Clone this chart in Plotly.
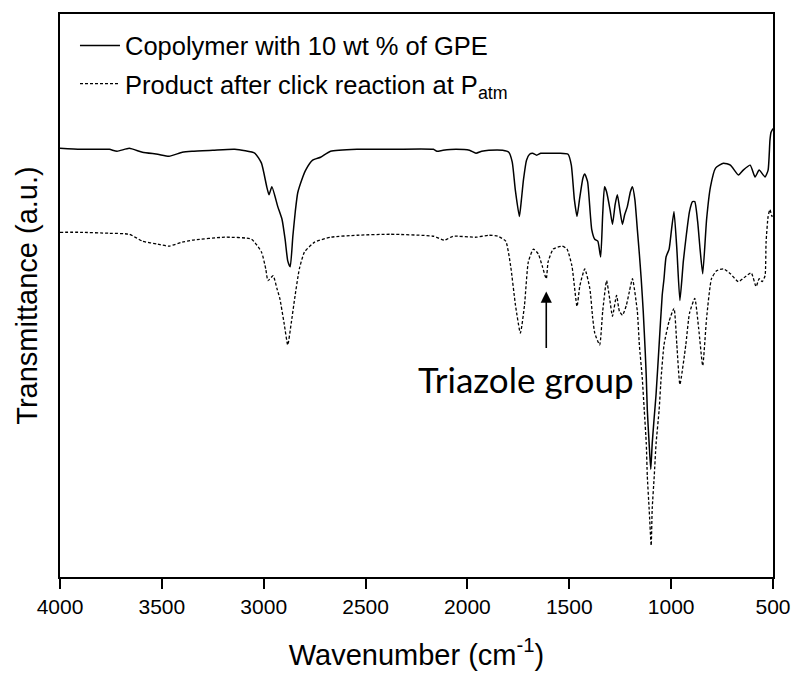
import plotly.graph_objects as go

# Wavenumber (cm^-1) and transmittance (a.u.)
copolymer_wn = [4000, 3900, 3800, 3757, 3720, 3660, 3595, 3520, 3465, 3400, 3352, 3250, 3142, 3043,
                3011, 2985, 2974, 2960, 2931, 2910, 2895, 2882, 2870, 2857, 2845, 2833, 2810, 2794,
                2760, 2721, 2672, 2542, 2400, 2167, 2150, 2120, 2056, 1990, 1958, 1930, 1895, 1827,
                1797, 1780, 1765, 1745, 1735, 1725, 1710, 1695, 1680, 1660, 1640, 1600, 1550, 1506,
                1490, 1475, 1462, 1450, 1433, 1424, 1410, 1390, 1375, 1360, 1346, 1336, 1327, 1317,
                1300, 1288, 1275, 1264, 1252, 1239, 1228, 1215, 1200, 1190, 1178, 1166, 1156, 1147,
                1137, 1127, 1122, 1117, 1108, 1100, 1093, 1083, 1074, 1059, 1044, 1035, 1025, 1010,
                998, 986, 972, 957, 940, 925, 910, 895, 884, 870, 858, 845, 826, 807, 782, 743, 709,
                670, 646, 612, 588, 568, 539, 524, 515, 510, 500]
copolymer_t = [434, 433, 433, 433, 431, 434, 430, 428, 426, 430, 431, 432, 433, 429,
               419, 395, 387, 395, 375, 362, 342, 320, 314, 345, 370, 389, 404, 412,
               422, 425, 431, 433, 433, 433, 431, 432, 433, 432, 429, 431, 432, 432,
               430, 420, 392, 365, 382, 402, 422, 428, 429, 427, 429, 429, 429, 428,
               417, 382, 365, 382, 404, 408, 400, 352, 342, 340, 324, 367, 395, 390,
               372, 357, 377, 387, 372, 357, 367, 375, 390, 395, 382, 352, 327, 302,
               269, 227, 202, 169, 135, 109, 135, 162, 185, 235, 285, 302, 324, 332,
               352, 370, 332, 280, 320, 347, 370, 380, 380, 360, 332, 307, 362, 395, 414, 419, 417,
               407, 412, 417, 405, 412, 405, 412, 442, 450, 454]

product_wn = [4000, 3900, 3757, 3660, 3595, 3520, 3465, 3400, 3352, 3190, 3060, 3011, 2990, 2979,
              2954, 2935, 2921, 2900, 2882, 2865, 2848, 2825, 2800, 2750, 2672, 2542, 2380, 2167,
              2113, 2071, 1958, 1895, 1851, 1812, 1788, 1764, 1740, 1720, 1701, 1676, 1652, 1633,
              1613, 1604, 1579, 1535, 1511, 1487, 1462, 1448, 1424, 1399, 1385, 1375, 1351, 1336,
              1317, 1302, 1288, 1268, 1254, 1239, 1220, 1205, 1190, 1166, 1156, 1142, 1132, 1122,
              1117, 1108, 1098, 1093, 1083, 1074, 1059, 1049, 1035, 1010, 986, 972, 957, 928, 910,
              884, 865, 845, 826, 802, 777, 743, 709, 670, 636, 607, 583, 568, 553, 539, 534, 524,
              515, 505, 500]
product_t = [349, 349, 348, 347, 340, 337, 335, 339, 341, 344, 342, 329, 312, 300,
             305, 292, 282, 257, 235, 257, 282, 312, 329, 339, 344, 346, 347, 345,
             341, 345, 344, 346, 345, 340, 315, 275, 247, 275, 319, 332, 327, 315,
             302, 319, 332, 335, 332, 315, 274, 295, 312, 292, 262, 247, 235, 269,
             300, 282, 264, 285, 269, 265, 275, 289, 302, 269, 235, 202, 169, 135,
             102, 69, 32, 69, 102, 135, 169, 202, 235, 259, 272, 235, 195, 235, 267,
             282, 252, 214, 262, 302, 310, 312, 307, 299, 304, 308, 294, 302, 299, 305, 339, 365,
             372, 365, 367]

series_names = ["Copolymer with 10 wt % of GPE", "Product after click reaction at P<sub>atm</sub>"]
x_ticks = [4000, 3500, 3000, 2500, 2000, 1500, 1000, 500]
arrow_label = "Triazole group"
arrow_wn = 1613
arrow_t = 289

fig = go.Figure()
fig.add_trace(go.Scatter(x=copolymer_wn, y=copolymer_t, mode="lines", name=series_names[0],
                         legendgroup="a",
                         line=dict(color="black", width=1.5, shape="spline", smoothing=0.5)))
fig.add_trace(go.Scatter(x=product_wn, y=product_t, mode="lines", name=series_names[1],
                         legendgroup="b",
                         line=dict(color="black", width=1.3, dash="3px,2px", shape="spline", smoothing=0.5)))

fig.add_annotation(x=arrow_wn, y=arrow_t, ax=0, ay=58, axref="pixel", ayref="pixel",
                   showarrow=True, arrowhead=2, arrowsize=1.4, arrowwidth=1.6, arrowcolor="black",
                   text="")
fig.add_annotation(x=arrow_wn, y=arrow_t, xref="x", yref="y", text=arrow_label, showarrow=False,
                   yshift=-87, xshift=-20, font=dict(family="Lato", size=35, color="black"))

fig.update_layout(
    width=803, height=678,
    margin=dict(l=60, r=23, t=12, b=96),
    paper_bgcolor="white", plot_bgcolor="white",
    font=dict(family="Liberation Sans, Arial", color="black"),
    showlegend=True,
    legend=dict(x=0.021, y=0.985, xanchor="left", yanchor="top", bgcolor="rgba(0,0,0,0)",
                font=dict(size=25.5, family="Liberation Sans, Arial"), tracegroupgap=2,
                itemwidth=40),
    xaxis=dict(range=[4000, 500], tickvals=x_ticks, ticktext=[str(v) for v in x_ticks],
               showgrid=False, zeroline=False, showline=True, linecolor="black", linewidth=2,
               mirror=True, ticks="outside", ticklen=10, tickwidth=1.5, tickcolor="black",
               tickfont=dict(size=21),
               title=dict(text="Wavenumber (cm<sup>-1</sup>)", font=dict(size=29), standoff=27)),
    yaxis=dict(range=[0, 570], showgrid=False, zeroline=False, showline=True, linecolor="black",
               linewidth=2, mirror=True, showticklabels=False, ticks="",
               title=dict(text="Transmittance (a.u.)", font=dict(size=29), standoff=12)),
)

fig.write_html("out.html")
